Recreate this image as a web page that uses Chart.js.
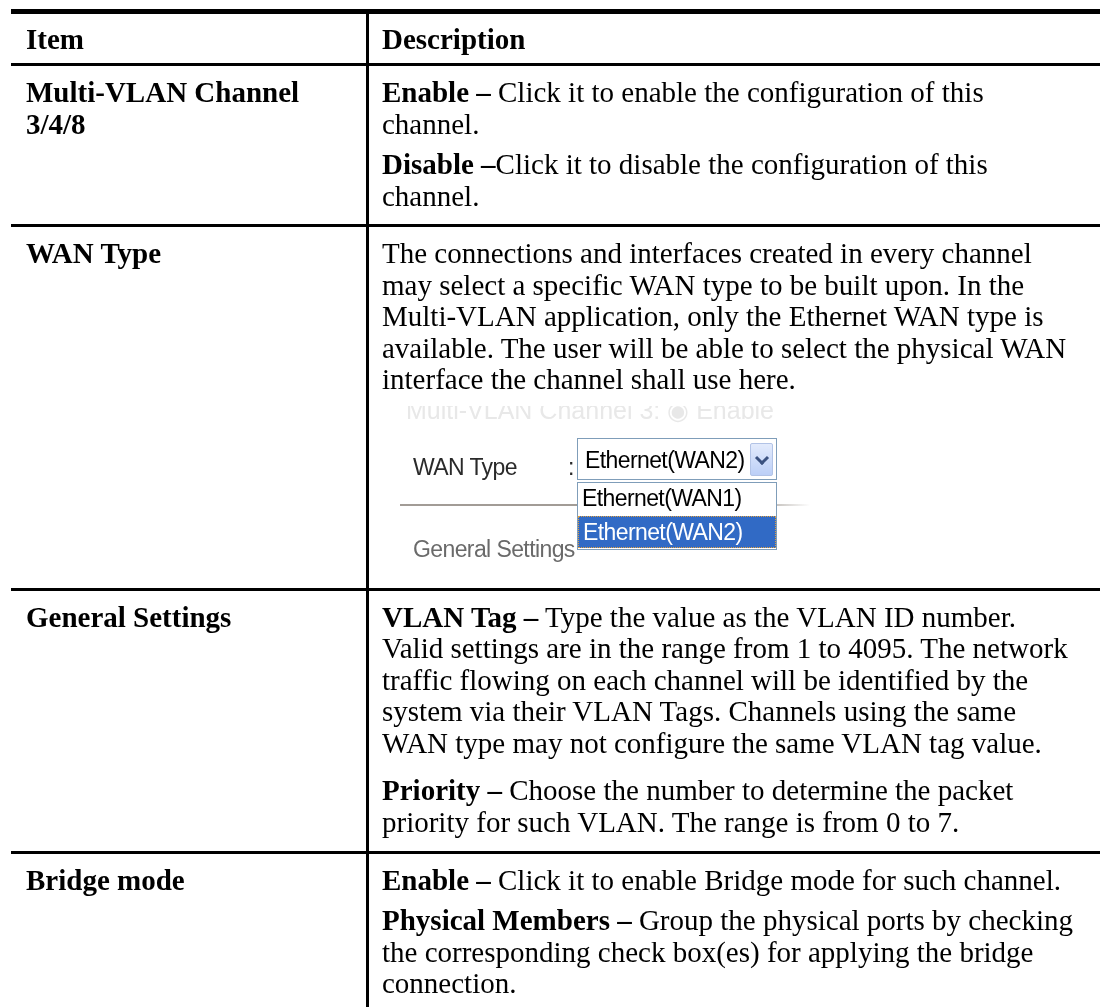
<!DOCTYPE html>
<html>
<head>
<meta charset="utf-8">
<script src="https://cdn.jsdelivr.net/npm/chart.js@4.4.1/dist/chart.umd.min.js"></script>
<style>
  html, body { margin: 0; padding: 0; background: #fff; }
  body {
    width: 1100px; height: 1007px; position: relative; overflow: hidden;
    font-family: "Liberation Serif", "Times New Roman", serif; font-size: 29px; color: #000;
  }
  #grid { position: absolute; left: 0; top: 0; }
  #table { position: absolute; left: 11px; top: 11.5px; width: 1089px; }
  .row { display: flex; }
  .cell { box-sizing: border-box; padding-top: 12.5px; line-height: 31.5px; white-space: nowrap; }
  .item { width: 356px; padding-left: 15px; font-weight: bold; }
  .desc { width: 733px; padding-left: 15px; }
  .desc p { margin: 0; }

  /* screenshot inside the WAN Type row */
  #shot {
    position: absolute; left: 400px; top: 406px; width: 420px; height: 170px; overflow: hidden;
    font-family: "Liberation Sans", Arial, sans-serif; font-size: 23px; line-height: 23px;
    letter-spacing: -0.6px;
  }
  #shot span, #shot div { position: absolute; }
  .faded { left: 6px; top: -7px; color: #e8e8e8; white-space: nowrap;
           font-size: 25px; letter-spacing: 0; }
  .lbl { left: 13px; top: 49.5px; color: #2a2a2a; }
  .colon { left: 168px; top: 49.5px; color: #2a2a2a; }
  .rule { left: 0; top: 98px; width: 410px; height: 2px;
          background: linear-gradient(to right, #a29c96 0%, #a29c96 86%, rgba(190,190,190,0) 100%); }
  .select { left: 177px; top: 32px; width: 200px; height: 42px; box-sizing: border-box;
            border: 1px solid #7f9db9; background: #fff; }
  .select .val { left: 7px; top: 9.5px; color: #000; white-space: nowrap; }
  .select .btn { left: 172px; top: 4px; width: 23px; height: 33px; box-sizing: border-box;
                 border: 1px solid #b2c3e6; border-radius: 2px;
                 background: linear-gradient(#e3ebfc, #bccff7); }
  .select .chev { left: 6px; top: 9px; width: 7px; height: 7px;
                  border-right: 3px solid #3b5280; border-bottom: 3px solid #3b5280;
                  transform: rotate(45deg); }
  .list { left: 177px; top: 76px; width: 200px; height: 68px; box-sizing: border-box;
          border: 1px solid #7f9db9; background: #fff; }
  .opt { left: 0; width: 198px; height: 32px; box-sizing: border-box; white-space: nowrap; }
  .opt span { left: 4px; top: 3.5px; }
  .opt.sel { background: #316ac5; color: #fff; border: 1px dotted #e0a040; }
  .gen { left: 13px; top: 131.5px; color: #6a6a6a; white-space: nowrap; }
</style>
</head>
<body>
<canvas id="grid" width="1100" height="1007"></canvas>
<div id="table"></div>
<div id="shot"></div>

<script>
/* ── table contents ── */
const headerLabels = ['Item', 'Description'];

const itemLabels = [
  ['Multi-VLAN Channel', '3/4/8'],
  ['WAN Type'],
  ['General Settings'],
  ['Bridge mode']
];

// each paragraph: bold term + the text lines as they wrap in the original
const descMultiVlan = [
  { term: 'Enable –', lines: [' Click it to enable the configuration of this', 'channel.'] },
  { term: 'Disable –', lines: ['Click it to disable the configuration of this', 'channel.'] }
];
const descWanType = [
  { term: '', lines: [
    'The connections and interfaces created in every channel',
    'may select a specific WAN type to be built upon. In the',
    'Multi-VLAN application, only the Ethernet WAN type is',
    'available. The user will be able to select the physical WAN',
    'interface the channel shall use here.'
  ] }
];
const descGeneral = [
  { term: 'VLAN Tag –', lines: [
    ' Type the value as the VLAN ID number.',
    'Valid settings are in the range from 1 to 4095. The network',
    'traffic flowing on each channel will be identified by the',
    'system via their VLAN Tags. Channels using the same',
    'WAN type may not configure the same VLAN tag value.'
  ] },
  { term: 'Priority –', lines: [
    ' Choose the number to determine the packet',
    'priority for such VLAN. The range is from 0 to 7.'
  ] }
];
const descBridge = [
  { term: 'Enable –', lines: [' Click it to enable Bridge mode for such channel.'] },
  { term: 'Physical Members –', lines: [
    ' Group the physical ports by checking',
    'the corresponding check box(es) for applying the bridge',
    'connection.'
  ] }
];
const descriptions = [descMultiVlan, descWanType, descGeneral, descBridge];

// screenshot of the WAN Type selector
const shotCaption = 'Multi-VLAN Channel 3: \u25C9 Enable';
const shotLabel = 'WAN Type';
const wanOptions = ['Ethernet(WAN1)', 'Ethernet(WAN2)'];
const wanSelected = 'Ethernet(WAN2)';
const shotSection = 'General Settings';

/* ── layout (px) ── */
const ROW_HEIGHTS = [53, 161, 363.5, 263, 155];
const PARA_GAP = [9, 0, 16, 9];
const PAGE_W = 1100, PAGE_H = 1007;

function esc(s) {
  return s.replace(/&/g, '&amp;').replace(/</g, '&lt;');
}

/* ─── build rows ─── */
const table = document.getElementById('table');
const rows = [];

const head = document.createElement('div');
head.className = 'row';
head.style.height = ROW_HEIGHTS[0] + 'px';
head.innerHTML = `<div class="cell item">${headerLabels[0]}</div>` +
                 `<div class="cell desc"><b>${headerLabels[1]}</b></div>`;
table.appendChild(head);
rows.push(head);

itemLabels.forEach((lbl, i) => {
  const row = document.createElement('div');
  row.className = 'row';
  row.style.height = ROW_HEIGHTS[i + 1] + 'px';
  const paras = descriptions[i].map((p, k) => {
    const body = p.lines.map((ln, j) =>
      (j === 0 && p.term ? `<b>${esc(p.term)}</b>` : '') + esc(ln)).join('<br>');
    const gap = k > 0 ? ` style="margin-top:${PARA_GAP[i]}px"` : '';
    return `<p${gap}>${body}</p>`;
  }).join('');
  row.innerHTML = `<div class="cell item">${lbl.map(esc).join('<br>')}</div>` +
                  `<div class="cell desc">${paras}</div>`;
  table.appendChild(row);
  rows.push(row);
});

/* ─── screenshot ─── */
const shot = document.getElementById('shot');
shot.innerHTML =
  `<span class="faded">${shotCaption}</span>` +
  `<span class="lbl">${shotLabel}</span><span class="colon">:</span>` +
  `<div class="rule"></div>` +
  `<div class="select"><span class="val">${wanSelected}</span>` +
  `<div class="btn"><div class="chev"></div></div></div>` +
  `<div class="list">` +
  wanOptions.map((o, i) =>
    `<div class="opt${o === wanSelected ? ' sel' : ''}" style="top:${i * 33}px"><span>${o}</span></div>`
  ).join('') +
  `</div>` +
  `<span class="gen">${shotSection}</span>`;

/* ─── rules of the table, drawn as Chart.js grid lines ─── */
const rowLines = rows.map(r => r.getBoundingClientRect().top);
const firstItem = rows[0].querySelector('.item').getBoundingClientRect();
const colLines = [firstItem.right];
const tableLeft = firstItem.left;
const topEdge = rowLines[0] - 2.5;

new Chart(document.getElementById('grid'), {
  type: 'scatter',
  data: { datasets: [] },
  options: {
    responsive: false,
    animation: false,
    devicePixelRatio: 1,
    events: [],
    layout: { padding: { left: tableLeft, top: topEdge, right: 0, bottom: 0 } },
    plugins: { legend: { display: false }, tooltip: { enabled: false } },
    scales: {
      x: {
        type: 'linear', min: tableLeft, max: PAGE_W,
        ticks: { display: false },
        border: { display: false },
        grid: { color: '#000', lineWidth: 3, drawTicks: false },
        afterBuildTicks: s => { s.ticks = colLines.map(v => ({ value: v })); }
      },
      y: {
        type: 'linear', reverse: true, min: topEdge, max: PAGE_H,
        ticks: { display: false },
        border: { display: false },
        grid: { color: '#000', lineWidth: c => (c.index === 0 ? 5 : 3), drawTicks: false },
        afterBuildTicks: s => { s.ticks = rowLines.map(v => ({ value: v })); }
      }
    }
  }
});
</script>
</body>
</html>
